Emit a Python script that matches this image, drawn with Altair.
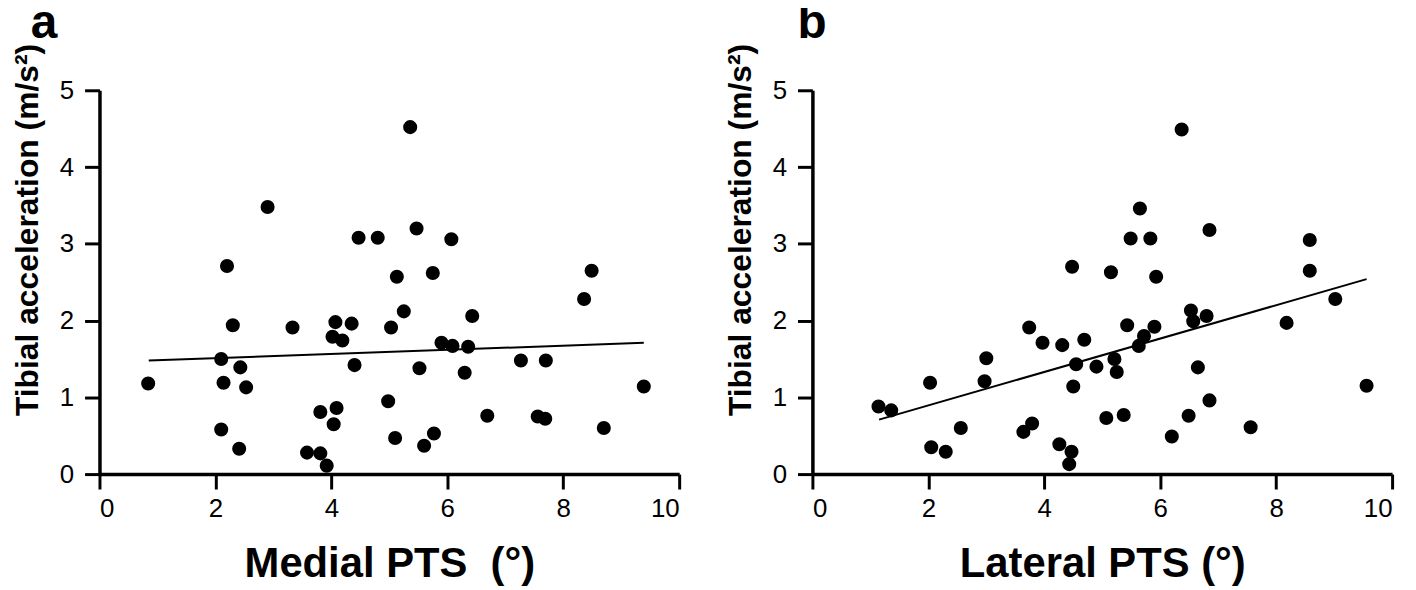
import altair as alt
import pandas as pd

# Panel a: Medial PTS (deg) vs tibial acceleration (m/s^2)
medial_pts = [0.84, 2.10, 2.14, 2.30, 2.43, 2.53, 2.10, 2.41, 2.20, 2.90,
              4.47, 4.80, 3.33, 4.07, 4.35, 4.02, 4.19, 4.40, 3.81, 4.09,
              4.04, 3.58, 3.81, 3.92, 5.03, 5.25, 5.13, 5.75, 5.36, 5.47,
              6.07, 8.49, 8.36, 6.43, 5.90, 6.09, 6.36, 5.52, 6.30, 7.27,
              7.70, 9.39, 4.98, 6.69, 7.56, 7.69, 5.10, 5.77, 5.60, 8.70]
medial_acc = [1.18, 1.50, 1.19, 1.94, 1.39, 1.13, 0.58, 0.33, 2.71, 3.48,
              3.08, 3.08, 1.91, 1.98, 1.96, 1.79, 1.74, 1.42, 0.81, 0.86,
              0.65, 0.28, 0.27, 0.11, 1.91, 2.12, 2.57, 2.62, 4.52, 3.20,
              3.06, 2.65, 2.28, 2.06, 1.71, 1.67, 1.66, 1.38, 1.32, 1.48,
              1.48, 1.14, 0.95, 0.76, 0.75, 0.72, 0.47, 0.53, 0.37, 0.60]
fit_a_x = [0.85, 9.39]
fit_a_y = [1.48, 1.71]

# Panel b: Lateral PTS (deg) vs tibial acceleration (m/s^2)
lateral_pts = [1.14, 1.36, 2.03, 2.05, 2.30, 2.56, 3.00, 2.97, 3.74, 3.97,
               4.31, 4.69, 4.55, 4.90, 4.50, 3.64, 3.79, 4.26, 4.47, 4.43,
               4.48, 6.37, 5.65, 5.49, 5.83, 6.85, 5.15, 5.93, 8.58, 8.58,
               9.02, 8.18, 6.53, 6.80, 6.57, 5.43, 5.90, 5.72, 5.63, 5.21,
               5.25, 6.65, 9.56, 6.85, 5.07, 5.37, 6.49, 7.56, 6.20]
lateral_acc = [0.88, 0.83, 1.19, 0.35, 0.29, 0.60, 1.51, 1.21, 1.91, 1.71,
               1.68, 1.75, 1.43, 1.40, 1.14, 0.55, 0.66, 0.39, 0.29, 0.13,
               2.70, 4.49, 3.46, 3.07, 3.07, 3.18, 2.63, 2.57, 3.05, 2.65,
               2.28, 1.97, 2.13, 2.06, 1.99, 1.94, 1.92, 1.80, 1.67, 1.50,
               1.33, 1.39, 1.15, 0.96, 0.73, 0.77, 0.76, 0.61, 0.49]
fit_b_x = [1.15, 9.56]
fit_b_y = [0.71, 2.54]

x_ticks = [0, 2, 4, 6, 8, 10]
y_ticks = [0, 1, 2, 3, 4, 5]
y_title = "Tibial acceleration (m/s²)"
x_title_a = "Medial PTS\u00a0\u00a0(°)"
x_title_b = "Lateral PTS (°)"

FONT = "Liberation Sans"


def panel(xs, ys, fx, fy, x_title, letter, letter_dx):
    pts = pd.DataFrame({"pts": xs, "acc": ys})
    fit = pd.DataFrame({"pts": fx, "acc": fy})
    x_enc = alt.X(
        "pts:Q",
        scale=alt.Scale(domain=[0, 10], nice=False, zero=False),
        axis=alt.Axis(values=x_ticks, format="d", title=x_title, titleY=103,
                      titleBaseline="alphabetic", titleFontSize=42),
    )
    y_enc = alt.Y(
        "acc:Q",
        scale=alt.Scale(domain=[0, 5], nice=False, zero=False),
        axis=alt.Axis(values=y_ticks, format="d", title=y_title, titleX=-62,
                      titleY=140, titleBaseline="alphabetic", titleFontSize=32,
                      labelPadding=11),
    )
    dots = alt.Chart(pts).mark_circle(size=200, color="black", opacity=1).encode(
        x=x_enc, y=y_enc)
    line = alt.Chart(fit).mark_line(color="black", strokeWidth=2).encode(
        x="pts:Q", y="acc:Q")
    return alt.layer(dots, line).properties(
        width=583, height=386,
        title=alt.TitleParams(letter, anchor="start", frame="group",
                              fontSize=48, fontWeight="bold", font=FONT,
                              color="black", dx=letter_dx, dy=9),
    )


pa = panel(medial_pts, medial_acc, fit_a_x, fit_a_y, x_title_a, "a", -69)
pb = panel(lateral_pts, lateral_acc, fit_b_x, fit_b_y, x_title_b, "b", -15)

chart = alt.hconcat(pa, pb, spacing=134, bounds="flush").properties(
    autosize=alt.AutoSizeParams(type="none"),
    padding={"left": 92, "top": 80, "right": 1316, "bottom": 500},
    background="white",
).configure_view(stroke=None).configure_axis(
    grid=False,
    domainColor="black", domainWidth=3.5,
    tickColor="black", tickWidth=3, tickSize=15,
    labelFont=FONT, labelFontSize=26, labelColor="black", labelPadding=7,
    titleFont=FONT, titleFontWeight="bold", titleColor="black",
)

chart.save("out.html", embed_options={"renderer": "svg", "actions": False})
